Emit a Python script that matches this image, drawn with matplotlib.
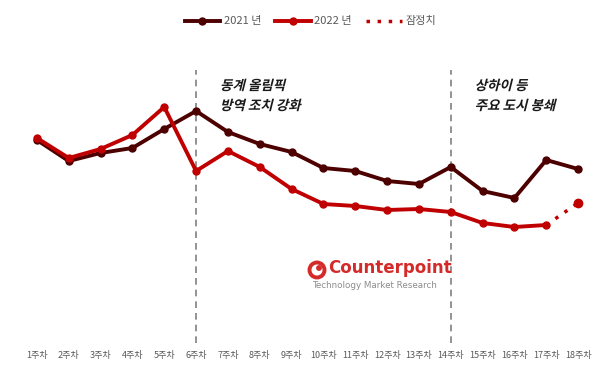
# Weekly index chart, 2021 vs 2022 (Counterpoint style)
import numpy as np
import matplotlib
matplotlib.use("Agg")
import matplotlib.pyplot as plt
from matplotlib.textpath import TextPath
from matplotlib.patches import PathPatch, Circle
from matplotlib.font_manager import FontProperties
from matplotlib.transforms import Affine2D, IdentityTransform

plt.rcParams['font.family'] = ['Noto Sans CJK KR', 'DejaVu Sans']

# data (relative index)
weeks = [f"{i}주차" for i in range(1, 19)]
sales_2021 = [160, 139, 147, 152, 171, 189, 168, 156, 148, 132, 129, 119, 116, 133, 109, 102, 140, 131]
sales_2022 = [162, 142, 151, 165, 193, 129, 149, 133, 111, 96, 94, 90, 91, 88, 77, 73, 75, 97]
legend_labels = ["2021 년", "2022 년", "잠정치"]
event_weeks = [6, 14]
event_texts = ["동계 올림픽\n방역 조치 강화", "상하이 등\n주요 도시 봉쇄"]

dark = "#4d0000"
red = "#c00000"

fig = plt.figure(figsize=(6.16, 3.86), dpi=100)
ax = fig.add_axes([21 / 616, 41 / 386, 573 / 616, 305 / 386])
x = np.arange(1, 19)

ax.plot(x, sales_2021, color=dark, lw=2.8, marker="o", ms=5, label=legend_labels[0], zorder=3)
ax.plot(x[:17], sales_2022[:17], color=red, lw=2.8, marker="o", ms=5, label=legend_labels[1], zorder=4)
ax.plot(x[16:], sales_2022[16:], color=red, lw=2.5, ls=(0, (1, 2.2)), zorder=4, label=legend_labels[2])
ax.plot(x[17], sales_2022[17], color=red, marker="o", ms=6, zorder=4)

for w in event_weeks:
    ax.plot([w, w], [-43, 230], color="#808080", lw=1.2, ls=(0, (4, 3)), zorder=1)

ax.set_xlim(0.5, 18.5)
ax.set_ylim(-45, 260)
ax.set_xticks(x)
ax.set_xticklabels(weeks, fontsize=6.5, color="#595959")
ax.tick_params(axis="x", length=0, pad=4)
ax.set_yticks([])
for s in ax.spines.values():
    s.set_visible(False)

leg = ax.legend(loc="upper center", bbox_to_anchor=(0.505, 1.11), ncol=3, frameon=False,
                fontsize=8, handlelength=3.2, columnspacing=1.3, handletextpad=0.3)
for t in leg.get_texts():
    t.set_color("#595959")

fig.canvas.draw()

# slanted annotation text
fp = FontProperties(family="Noto Sans CJK KR", weight="bold")
def slanted(s, px, py, size=13.5):
    tp = TextPath((0, 0), s, prop=fp, size=size)
    tr = Affine2D().skew_deg(14, 0).translate(px, py)
    fig.patches.append(PathPatch(tp, transform=tr, color="#1a1a1a", lw=0))

for w, txt in zip(event_weeks, event_texts):
    lines = txt.split("\n")
    px, py = ax.transData.transform((w + 0.75, 0))[0], 386 - 90
    slanted(lines[0], px, py)
    slanted(lines[1], px, py - 20)

# watermark
pix = IdentityTransform()
fig.patches.append(Circle((317, 386 - 270), 7.5, transform=pix, fill=False, ec="#d42a2a", lw=2.8))
fig.patches.append(Circle((319, 386 - 268), 2.2, transform=pix, color="#d42a2a"))
fig.text(328 / 616, 1 - 268 / 386, "Counterpoint", color="#d42a2a", fontsize=12,
         fontweight="bold", family="DejaVu Sans", va="center", ha="left")
fig.text(312 / 616, 1 - 285 / 386, "Technology Market Research", color="#8c8c8c", fontsize=6.3,
         family="DejaVu Sans", va="center", ha="left")

fig.savefig("out.png", dpi=100)
